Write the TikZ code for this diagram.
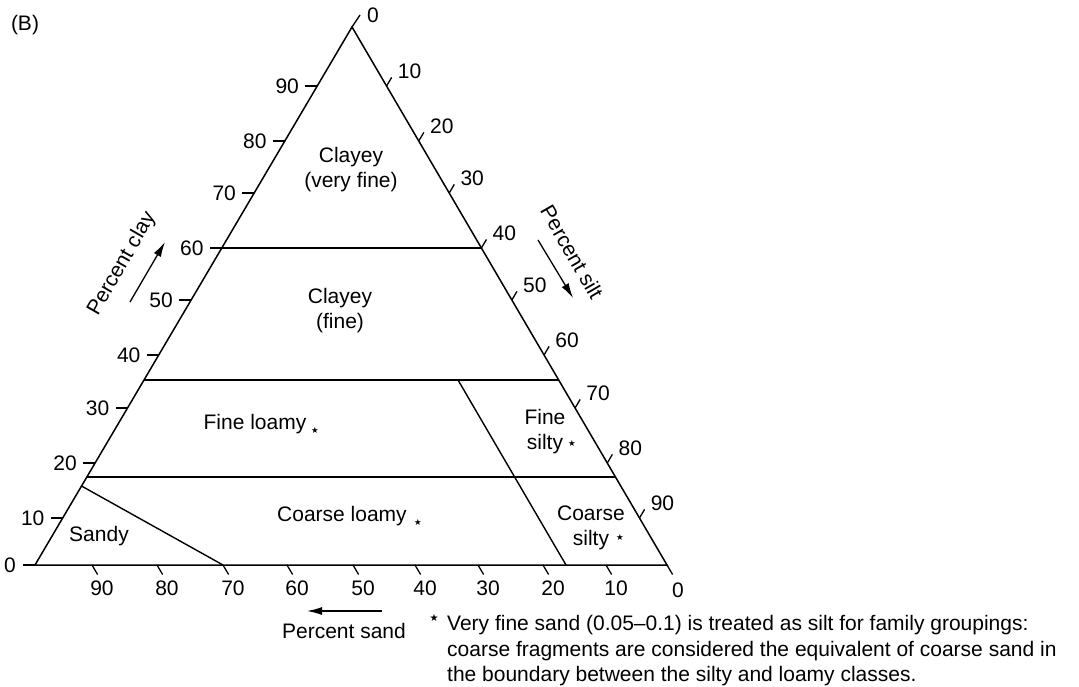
\documentclass[tikz,border=0pt]{standalone}
\usepackage{fontspec}
\setmainfont{Liberation Sans}
\newfontfamily\symfont{DejaVu Sans}
\usetikzlibrary{arrows.meta,calc}
\begin{document}
\begin{tikzpicture}[x=1pt,y=-1pt,
  every node/.style={font=\fontsize{21}{25}\selectfont, inner sep=0pt},
  edge/.style={line width=1.5pt, line join=miter},
  tickline/.style={line width=1.3pt},
  bound/.style={line width=1.4pt},
  region/.style={align=center},
  starmark/.style={font=\symfont\fontsize{8.5}{10}\selectfont},
  notestar/.style={font=\symfont\fontsize{10}{12}\selectfont},
  axarrow/.style={line width=1.3pt, -{Latex[length=15pt,width=8pt]}},
]
\useasboundingbox (0,0) rectangle (1079,687);

% triangle
\coordinate (A) at (35,565);
\coordinate (B) at (667,565);
\coordinate (C) at (352,27);
\draw[edge] (A) -- (B) -- (C) -- cycle;

% zero ticks
\coordinate (A0) at (23,565);
\coordinate (B0) at ($(B)+(5.6,9.5)$);
\coordinate (C0) at ($(C)+(8,-12)$);
\draw[tickline] (A) -- (A0);
\draw[tickline] (B) -- (B0);
\draw[tickline] (C) -- (C0);
\node (lc0) at (10,565) {0};
\node (ls0) at (678,590) {0};
\node (lt0) at (373,15) {0};

% clay ticks (left edge)
\foreach \c/\y in {10/518,20/463,30/408,40/355,50/300,60/248,70/193,80/141,90/86}{
  \pgfmathsetmacro\xl{35+(565-\y)/538*317}
  \coordinate (cl\c) at (\xl,\y);
  \draw[tickline] (cl\c) -- ++(-12,0);
  \node (lcl\c) at ($(cl\c)+(-30,0)$) {\c};
}

% silt ticks (right edge)
\foreach \s/\y in {10/86,20/141,30/193,40/248,50/300,60/355,70/408,80/463,90/518}{
  \pgfmathsetmacro\xr{667-(565-\y)/538*315}
  \coordinate (si\s) at (\xr,\y);
  \draw[tickline] (si\s) -- ++(5.1,-8.6);
  \node (lsi\s) at ($(si\s)+(23,-15)$) {\s};
}

% sand ticks (bottom edge)
\foreach \s/\x in {90/92,80/157,70/223,60/287,50/353,40/415,30/478,20/543,10/606}{
  \coordinate (sa\s) at (\x,565);
  \draw[tickline] (sa\s) -- ++(5.6,9.5);
  \node (lsa\s) at (\x+10,588) {\s};
}

% class boundaries
\coordinate (p60l) at (221.8,248);
\coordinate (p60r) at (481.4,248);
\coordinate (p35l) at (144,380);
\coordinate (p35r) at (558.7,380);
\coordinate (p18l) at (86.8,477);
\coordinate (p18r) at (615.5,477);
\coordinate (sdl) at (81.5,486);
\coordinate (svt) at (458,380);
\coordinate (svb) at (566,565);
\draw[bound] (p60l) -- (p60r);
\draw[bound] (p35l) -- (p35r);
\draw[bound] (p18l) -- (p18r);
\draw[bound] (sdl) -- (sa70);
\draw[bound] (svt) -- (svb);

% class labels
\node[region] (vfine) at (351,170) {Clayey\\(very fine)};
\node[region] (fine) at (340,310.5) {Clayey\\(fine)};
\node (floamy) at (255,424) {Fine loamy};
\node (cloamy) at (342,516) {Coarse loamy};
\node (sandy) at (99,536) {Sandy};
\node[region] (fsilty) at (545,431.5) {Fine\\silty};
\node[region] (csilty) at (591,527.5) {Coarse\\silty};
\node[starmark] (st1) at (315,430) {★};
\node[starmark] (st2) at (418,522) {★};
\node[starmark] (st3) at (572,443) {★};
\node[starmark] (st4) at (620,537) {★};

% axis titles and arrows
\node (panel) at (25,25) {(B)};
\node[rotate=60] (tclay) at (122,264) {Percent clay};
\node[rotate=-60] (tsilt) at (572,252) {Percent silt};
\node (tsand) at (344,631) {Percent sand};
\coordinate (ca1) at (130,302);
\coordinate (ca2) at (165,242);
\coordinate (sa1) at (538,240);
\coordinate (sa2) at (573,298);
\coordinate (da1) at (382,611);
\coordinate (da2) at (307,611);
\draw[axarrow] (ca1) -- (ca2);
\draw[axarrow] (sa1) -- (sa2);
\draw[axarrow] (da1) -- (da2);

% footnote
\node[notestar] (nstar) at (434,618) {★};
\node[anchor=base west] (note1) at (447,630) {Very fine sand (0.05–0.1) is treated as silt for family groupings:};
\node[anchor=base west] (note2) at (447,656) {coarse fragments are considered the equivalent of coarse sand in};
\node[anchor=base west] (note3) at (447,681) {the boundary between the silty and loamy classes.};
\end{tikzpicture}
\end{document}
